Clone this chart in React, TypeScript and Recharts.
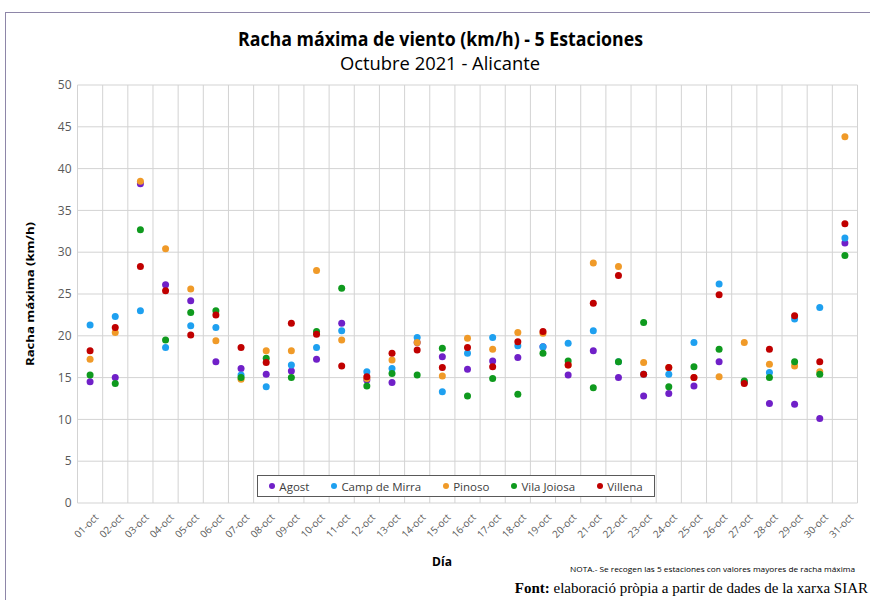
import { ScatterChart, Scatter, XAxis, YAxis, ReferenceLine, CartesianGrid } from 'recharts';

const days = [
    '01-oct', '02-oct', '03-oct', '04-oct', '05-oct', '06-oct', '07-oct', '08-oct', '09-oct', '10-oct',
    '11-oct', '12-oct', '13-oct', '14-oct', '15-oct', '16-oct', '17-oct', '18-oct', '19-oct', '20-oct',
    '21-oct', '22-oct', '23-oct', '24-oct', '25-oct', '26-oct', '27-oct', '28-oct', '29-oct', '30-oct', '31-oct',
];

const agost = [14.5, 15.0, 38.2, 26.1, 24.2, 16.9, 16.1, 15.4, 15.8, 17.2, 21.5, 14.7, 14.4, 19.2, 17.5, 16.0, 17.0, 17.4, 18.7, 15.3, 18.2, 15.0, 12.8, 13.1, 14.0, 16.9, 14.4, 11.9, 11.8, 10.1, 31.1];
const campDeMirra = [21.3, 22.3, 23.0, 18.6, 21.2, 21.0, 15.3, 13.9, 16.5, 18.6, 20.6, 15.7, 16.1, 19.8, 13.3, 17.9, 19.8, 18.8, 18.7, 19.1, 20.6, 16.9, 15.4, 15.4, 19.2, 26.2, 14.5, 15.6, 22.0, 23.4, 31.7];
const pinoso = [17.2, 20.4, 38.5, 30.4, 25.6, 19.4, 14.8, 18.2, 18.2, 27.8, 19.5, 14.9, 17.1, 19.2, 15.2, 19.7, 18.4, 20.4, 20.3, 16.5, 28.7, 28.3, 16.8, 16.2, 15.0, 15.1, 19.2, 16.6, 16.4, 15.7, 43.8];
const vilaJoiosa = [15.3, 14.3, 32.7, 19.5, 22.8, 23.0, 15.0, 17.3, 15.0, 20.5, 25.7, 14.0, 15.5, 15.3, 18.5, 12.8, 14.9, 13.0, 17.9, 17.0, 13.8, 16.9, 21.6, 13.9, 16.3, 18.4, 14.6, 15.0, 16.9, 15.4, 29.6];
const villena = [18.2, 21.0, 28.3, 25.4, 20.1, 22.5, 18.6, 16.8, 21.5, 20.2, 16.4, 15.1, 17.9, 18.3, 16.2, 18.6, 16.3, 19.3, 20.5, 16.5, 23.9, 27.2, 15.4, 16.2, 15.0, 24.9, 14.3, 18.4, 22.4, 16.9, 33.4];

const yTicks = [0, 5, 10, 15, 20, 25, 30, 35, 40, 45, 50];

const series = [
    { name: 'Agost', values: agost, color: '#7020c8' },
    { name: 'Camp de Mirra', values: campDeMirra, color: '#1ea0f0' },
    { name: 'Pinoso', values: pinoso, color: '#f09a28' },
    { name: 'Vila Joiosa', values: vilaJoiosa, color: '#0f9a1e' },
    { name: 'Villena', values: villena, color: '#c00000' },
];

const FONT = '"Open Sans", sans-serif';
const GRID = '#d3d3d3';

// categorias en 1..31, las lineas verticales van entre categorias (estilo Excel)
const dayTicks = days.map((_, i) => i + 1);
const gridTicks = [...days.map((_, i) => i + 0.5), days.length + 0.5];

const DayTick = ({ x, y, payload }: any) => (
    <g transform={`translate(${x},${y})`}>
        <text
            x={9}
            y={7}
            textAnchor="end"
            transform="rotate(-45 9 7)"
            fontSize={10}
            fill="#595959"
            fontFamily={FONT}
        >
            {days[payload.value - 1]}
        </text>
    </g>
);

export default function App() {
    return (
        <div style={{ position: 'absolute', left: 0, top: 0, width: 870, height: 600, background: '#fff' }}>
            <div style={{
                position: 'absolute', left: 5, top: 12, width: 870, height: 600,
                borderTop: '1px solid #8e86a8', borderLeft: '1px solid #8e86a8'
            }} />
            <ScatterChart width={870} height={600} margin={{ top: 85, right: 12.5, left: 7.5, bottom: 47 }}>
                <CartesianGrid vertical={false} stroke={GRID} />
                <XAxis
                    type="number"
                    dataKey="day"
                    domain={[0.5, days.length + 0.5]}
                    ticks={dayTicks}
                    interval={0}
                    tick={<DayTick />}
                    tickLine={false}
                    axisLine={false}
                    height={50}
                />
                <YAxis
                    type="number"
                    dataKey="value"
                    domain={[0, 50]}
                    ticks={yTicks}
                    width={70}
                    tickLine={false}
                    axisLine={false}
                    tickSize={0}
                    tickMargin={6}
                    tick={{ fontSize: 12, fill: '#595959', fontFamily: FONT }}
                />
                {gridTicks.map(t => (
                    <ReferenceLine key={'x' + t} x={t} stroke={GRID} strokeWidth={1} ifOverflow="visible" />
                ))}
                {series.map(s => (
                    <Scatter
                        key={s.name}
                        name={s.name}
                        data={s.values.map((v, i) => ({ day: i + 1, value: v }))}
                        fill={s.color}
                        isAnimationActive={false}
                        shape={(p: any) => <circle cx={p.cx} cy={p.cy} r={3.5} fill={s.color} />}
                    />
                ))}
            </ScatterChart>

            <svg width={870} height={600} style={{ position: 'absolute', left: 0, top: 0, pointerEvents: 'none' }}>
                <text x={440.5} y={46} textAnchor="middle" fontSize={20} fontWeight="bold" fill="#000"
                    fontFamily={FONT} textLength={405} lengthAdjust="spacingAndGlyphs">
                    Racha máxima de viento (km/h) - 5 Estaciones
                </text>
                <text x={440} y={70} textAnchor="middle" fontSize={18} fill="#000"
                    fontFamily={FONT} textLength={200} lengthAdjust="spacingAndGlyphs">
                    Octubre 2021 - Alicante
                </text>
                <text x={0} y={0} transform="translate(34,294) rotate(-90)" textAnchor="middle" fontSize={11}
                    fontWeight="bold" fill="#000" fontFamily={FONT} textLength={144} lengthAdjust="spacingAndGlyphs">
                    Racha máxima (km/h)
                </text>
                <text x={442} y={566} textAnchor="middle" fontSize={12} fontWeight="bold" fill="#000" fontFamily={FONT}>
                    Día
                </text>
                <text x={855} y={572} textAnchor="end" fontSize={8} fill="#000" fontFamily={FONT}
                    textLength={285} lengthAdjust="spacingAndGlyphs">
                    NOTA.- Se recogen las 5 estaciones con valores mayores de racha máxima
                </text>
                <text x={868} y={593} textAnchor="end" fontSize={15} fill="#000" fontFamily='"Liberation Serif", serif'>
                    <tspan fontWeight="bold">Font:</tspan> elaboració pròpia a partir de dades de la xarxa SIAR
                </text>
            </svg>

            <div style={{
                position: 'absolute', left: 257, top: 475, width: 396, height: 20,
                border: '1px solid #595959', background: '#fff',
                display: 'flex', alignItems: 'center', justifyContent: 'center', gap: 22,
                fontFamily: FONT, fontSize: 11.5, color: '#404040'
            }}>
                {series.map(s => (
                    <div key={s.name} style={{ display: 'flex', alignItems: 'center', gap: 4 }}>
                        <span style={{ width: 6, height: 6, borderRadius: 3, background: s.color, display: 'inline-block' }} />
                        <span>{s.name}</span>
                    </div>
                ))}
            </div>
        </div>
    );
}
